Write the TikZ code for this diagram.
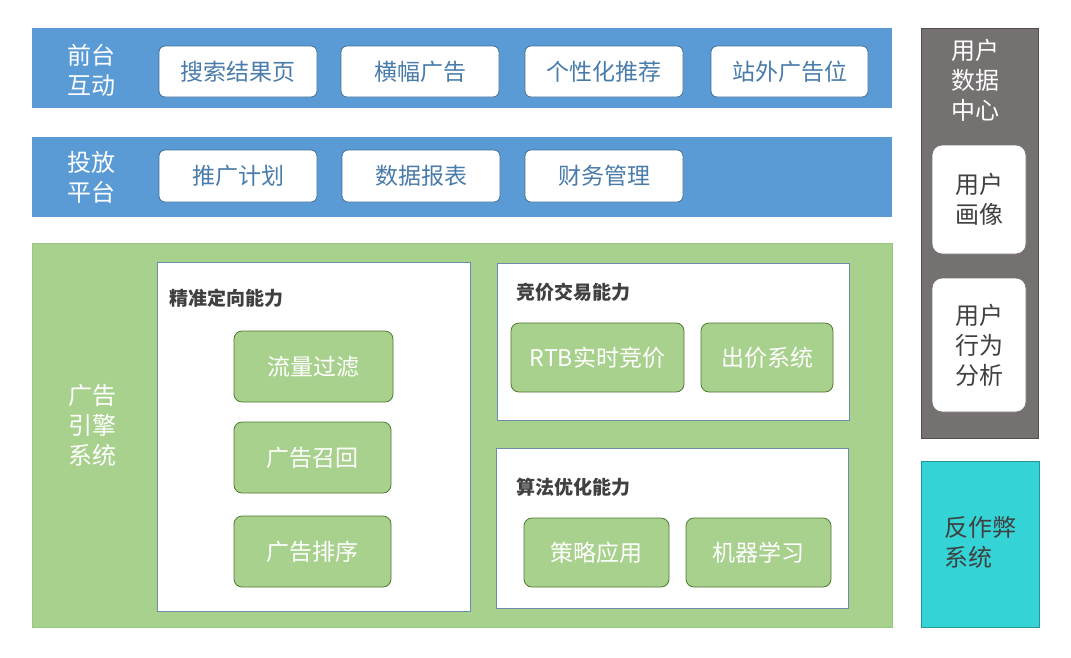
\documentclass[tikz,border=0pt]{standalone}
\usepackage{fontspec}
\setmainfont{Noto Sans CJK SC}
\definecolor{bandblue}{HTML}{5B9BD5}
\definecolor{enggreen}{HTML}{A9D18E}
\definecolor{gbord}{HTML}{70AD47}
\definecolor{ggray}{HTML}{767171}
\definecolor{cyanbox}{HTML}{33D3D6}
\definecolor{txt}{HTML}{404040}
\tikzset{
 btn/.style={draw=bandblue!70!black,fill=white,rounded corners=6pt,line width=0.8pt,text=bandblue!80!black,font=\fontsize{23}{26}\selectfont},
 gbtn/.style={draw=gbord!70!black,fill=enggreen,rounded corners=8pt,line width=0.8pt,text=white,font=\fontsize{23}{26}\selectfont},
 wbtn/.style={draw=ggray,fill=white,rounded corners=10pt,line width=0.8pt,text=txt,font=\fontsize{24}{30}\selectfont,align=center},
 lbl/.style={text=white,font=\fontsize{24}{30}\selectfont,align=center},
 ttl/.style={text=txt,font=\fontsize{19}{22}\selectfont\bfseries},
 panel/.style={draw=bandblue!50!gray,fill=white,line width=0.8pt}
}
\newcommand\bx[6]{\node[#1,minimum width=#4-#2,minimum height=#5-#3,inner sep=0pt] (#6) at ({(#2+#4)/2},{(#3+#5)/2})}
\begin{document}
\begin{tikzpicture}[x=1pt,y=-1pt]
\useasboundingbox (0,0) rectangle (1071,657);
\fill[bandblue] (32,28) rectangle (892,108);
\node[lbl] (l1) at (91,70) {前台\\互动};
\bx{btn}{159}{46}{317}{97}{b1} {搜索结果页};
\bx{btn}{341}{46}{499}{97}{b2} {横幅广告};
\bx{btn}{525}{46}{683}{97}{b3} {个性化推荐};
\bx{btn}{711}{46}{868}{97}{b4} {站外广告位};
\fill[bandblue] (32,137) rectangle (892,217);
\node[lbl] (l2) at (91,177) {投放\\平台};
\bx{btn}{159}{150}{317}{202}{c1} {推广计划};
\bx{btn}{342}{150}{500}{202}{c2} {数据报表};
\bx{btn}{525}{150}{683}{202}{c3} {财务管理};
\draw[fill=enggreen,draw=gbord!70,line width=0.8pt] (32,243) rectangle (892,627);
\node[lbl] (l3) at (92,425) {广告\\引擎\\系统};
\draw[panel] (157,262) rectangle (470,611);
\node[ttl,anchor=west] (t1) at (166,298) {精准定向能力};
\bx{gbtn}{234}{331}{393}{402}{d1} {流量过滤};
\bx{gbtn}{234}{422}{391}{493}{d2} {广告召回};
\bx{gbtn}{234}{516}{391}{587}{d3} {广告排序};
\draw[panel] (497,263) rectangle (849,420);
\node[ttl,anchor=west] (t2) at (513,292) {竞价交易能力};
\bx{gbtn}{511}{323}{684}{392}{e1} {RTB实时竞价};
\bx{gbtn}{701}{323}{833}{392}{e2} {出价系统};
\draw[panel] (496,448) rectangle (848,608);
\node[ttl,anchor=west] (t3) at (513,487) {算法优化能力};
\bx{gbtn}{524}{518}{669}{587}{f1} {策略应用};
\bx{gbtn}{686}{518}{831}{587}{f2} {机器学习};
\draw[fill=ggray,draw=ggray!70!black] (921,28) rectangle (1038,438);
\node[lbl] (l4) at (975,80) {用户\\数据\\中心};
\bx{wbtn}{932}{145}{1026}{254}{g1} {用户\\画像};
\bx{wbtn}{932}{278}{1026}{412}{g2} {用户\\行为\\分析};
\draw[fill=cyanbox,draw=cyanbox!70!black] (921,461) rectangle (1039,627);
\node[text=txt,font=\fontsize{24}{30}\selectfont,align=left] (h) at (980,542) {反作弊\\系统};
\end{tikzpicture}
\end{document}
